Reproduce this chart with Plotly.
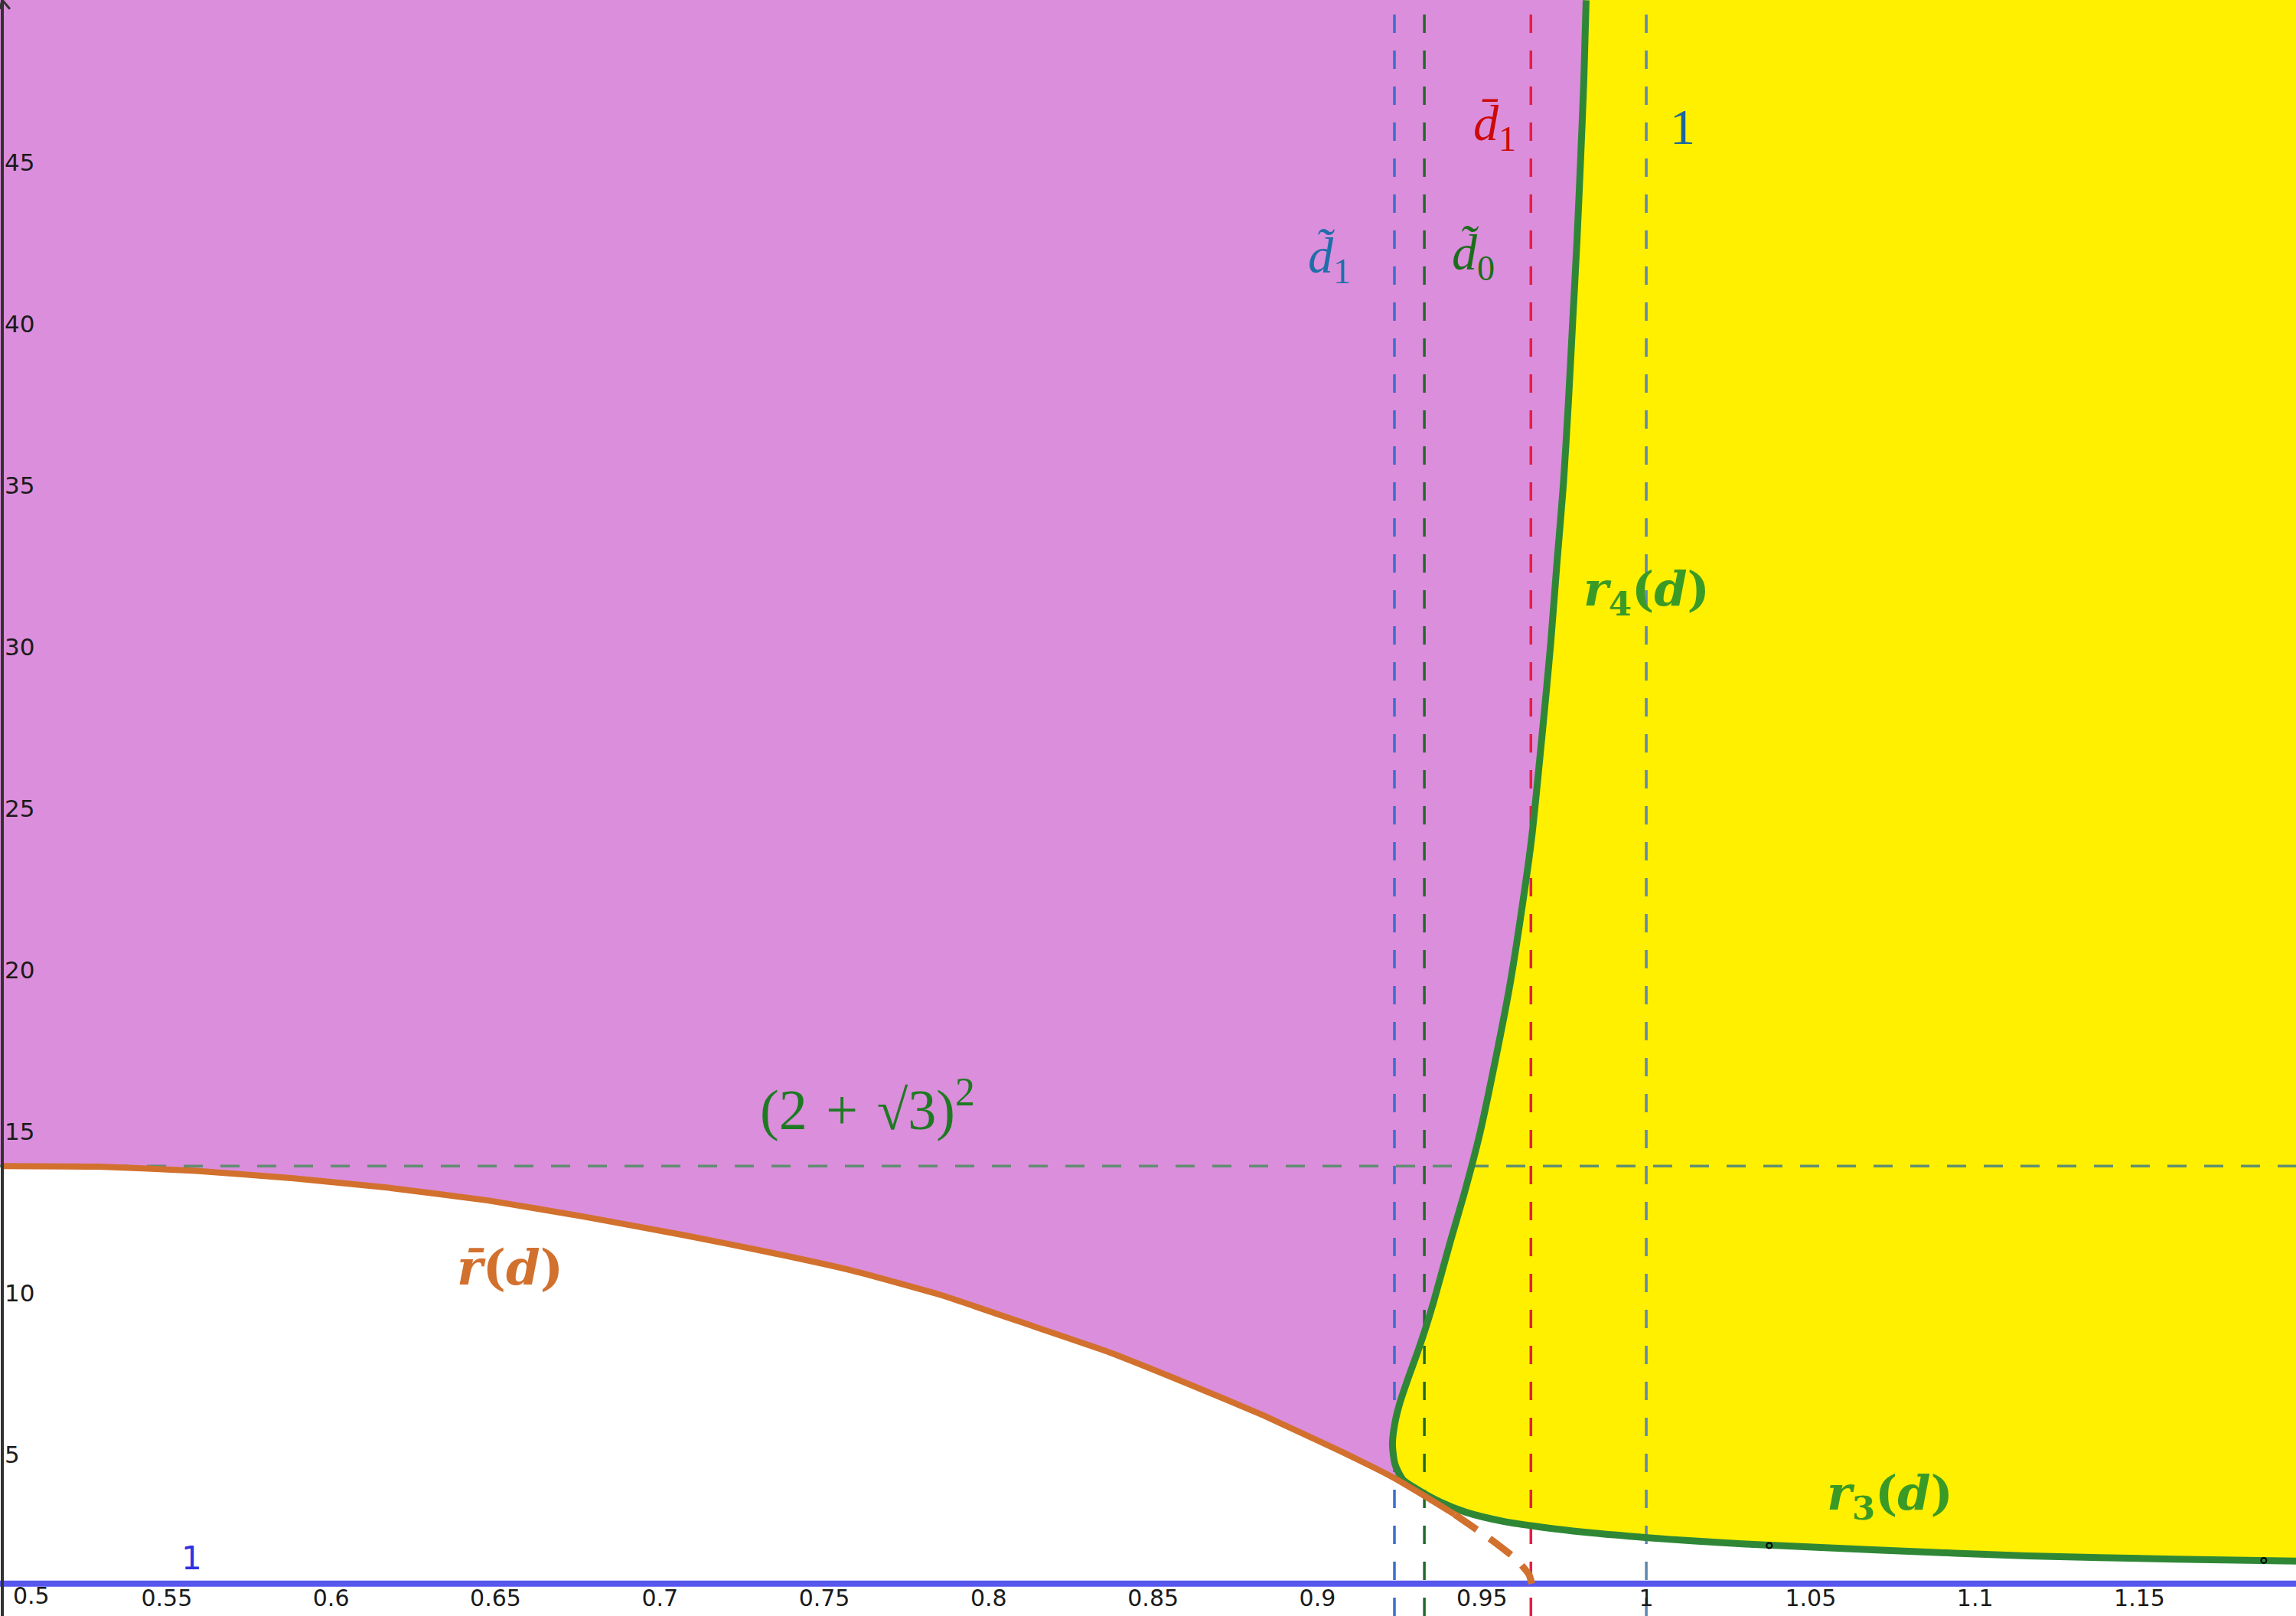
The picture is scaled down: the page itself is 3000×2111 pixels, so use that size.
import plotly.graph_objects as go

# ---- data ----
# orange curve r_bar(d): solid part and dashed continuation
rbar_d = [0.5, 0.5292, 0.5589, 0.5886, 0.6182, 0.6480, 0.6776, 0.7073, 0.7323, 0.7590,
          0.7857, 0.8124, 0.8368, 0.8601, 0.8834, 0.9066, 0.9230, 0.9325, 0.9418]
rbar_r = [13.93, 13.91, 13.78, 13.55, 13.25, 12.86, 12.35, 11.79, 11.28, 10.68,
          9.93, 9.01, 8.16, 7.21, 6.22, 5.12, 4.29, 3.72, 3.14]
rbar_dash_d = [0.9418, 0.9468, 0.9534, 0.9604, 0.9643, 0.9652]
rbar_dash_r = [3.14, 2.79, 2.32, 1.76, 1.29, 1.0]

# green curve: r4(d) coming down from the top, turning into r3(d)
green_d = [0.9817, 0.9810, 0.9800, 0.9789, 0.9776, 0.9763, 0.9748, 0.9728, 0.9709, 0.9686,
           0.9651, 0.9620, 0.9585, 0.9542, 0.9495, 0.9449, 0.9402, 0.9353, 0.9330, 0.9304,
           0.9276, 0.9250, 0.9235, 0.9228, 0.9236, 0.9260, 0.9294, 0.9371, 0.9449, 0.9565,
           0.9682, 0.9837, 0.9997, 1.0147, 1.0302, 1.0714, 1.1159, 1.1604, 1.1978]
green_r = [50.02, 47.53, 45.04, 42.54, 40.05, 37.56, 35.06, 32.57, 30.08, 27.58,
           24.06, 21.79, 19.53, 17.26, 14.99, 13.18, 11.52, 9.72, 8.95, 8.16,
           7.37, 6.58, 5.95, 5.32, 4.69, 4.22, 3.98, 3.54, 3.22, 2.93,
           2.75, 2.57, 2.43, 2.32, 2.23, 2.04, 1.86, 1.76, 1.70]
green_split = 25  # index where the magenta region meets the orange curve

dots_d = [1.0374, 1.1878]
dots_r = [2.18, 1.72]

# reference lines
d_tilde_1 = 0.9234
d_tilde_0 = 0.9325
d_bar_1 = 0.9649
d_one = 1.0
r_level = 13.928   # (2 + sqrt 3)^2
r_one = 1.0

x_ticks = [0.55, 0.6, 0.65, 0.7, 0.75, 0.8, 0.85, 0.9, 0.95, 1.0, 1.05, 1.1, 1.15]
x_ticktext = ['0.55', '0.6', '0.65', '0.7', '0.75', '0.8', '0.85', '0.9', '0.95', '1',
              '1.05', '1.1', '1.15']
y_ticks = [5, 10, 15, 20, 25, 30, 35, 40, 45]

X_MIN, X_MAX = 0.4993, 1.1976
Y_MIN, Y_MAX = 0.0, 50.03

colors = {
    'magenta': '#DB8EDB',
    'yellow': '#FFF000',
    'orange': '#D2702E',
    'green': '#2F8736',
    'green_label': '#3A9A26',
    'dark_green': '#1E7A22',
    'blue_line': '#5757EE',
    'blue_dash': '#3A6FCC',
    'green_dash': '#1F6B2A',
    'red_dash': '#E51E44',
    'one_dash': '#5E88AE',
    'h_dash': '#5F8E70',
}

fig = go.Figure()

# magenta region: above r_bar, left of the green curve
mag_x = [X_MIN] + rbar_d[:17] + green_d[:green_split + 1][::-1] + [X_MIN]
mag_y = [rbar_r[0]] + rbar_r[:17] + green_r[:green_split + 1][::-1] + [Y_MAX + 1]
mag_x[-1:] = [green_d[0], X_MIN]
mag_y[-1:] = [Y_MAX + 1, Y_MAX + 1]
fig.add_trace(go.Scatter(x=mag_x, y=mag_y, mode='lines', fill='toself',
                         fillcolor=colors['magenta'], line=dict(width=0),
                         hoverinfo='skip', showlegend=False))

# yellow region: right of the green curve
yel_x = green_d + [X_MAX + 0.01, X_MAX + 0.01, green_d[0]]
yel_y = green_r + [green_r[-1], Y_MAX + 1, Y_MAX + 1]
fig.add_trace(go.Scatter(x=yel_x, y=yel_y, mode='lines', fill='toself',
                         fillcolor=colors['yellow'], line=dict(width=0),
                         hoverinfo='skip', showlegend=False))

# the line r = 1
fig.add_trace(go.Scatter(x=[X_MIN, X_MAX], y=[r_one, r_one], mode='lines',
                         line=dict(color=colors['blue_line'], width=8),
                         hoverinfo='skip', showlegend=False))

# dashed reference lines
for xv, col in [(d_tilde_1, colors['blue_dash']), (d_tilde_0, colors['green_dash']),
                (d_bar_1, colors['red_dash']), (d_one, colors['one_dash'])]:
    fig.add_trace(go.Scatter(x=[xv, xv], y=[Y_MIN, Y_MAX], mode='lines',
                             line=dict(color=col, width=3.5, dash='24px,23px'),
                             hoverinfo='skip', showlegend=False))
fig.add_trace(go.Scatter(x=[X_MIN, X_MAX], y=[r_level, r_level], mode='lines',
                         line=dict(color=colors['h_dash'], width=3.5, dash='25px,23px'),
                         hoverinfo='skip', showlegend=False))

# curves
fig.add_trace(go.Scatter(x=green_d, y=green_r, mode='lines',
                         line=dict(color=colors['green'], width=9, shape='spline', smoothing=0.7),
                         hoverinfo='skip', showlegend=False))
fig.add_trace(go.Scatter(x=rbar_d, y=rbar_r, mode='lines',
                         line=dict(color=colors['orange'], width=8, shape='spline', smoothing=0.4),
                         hoverinfo='skip', showlegend=False))
fig.add_trace(go.Scatter(x=rbar_dash_d, y=rbar_dash_r, mode='lines',
                         line=dict(color=colors['orange'], width=9, dash='35px,20px',
                                   shape='spline', smoothing=0.5),
                         hoverinfo='skip', showlegend=False))
fig.add_trace(go.Scatter(x=dots_d, y=dots_r, mode='markers',
                         marker=dict(symbol='circle-open', size=7, color='black',
                                     line=dict(width=2, color='black')),
                         hoverinfo='skip', showlegend=False))

# y axis line with arrow
fig.add_shape(type='line', x0=0.5, x1=0.5, y0=Y_MIN, y1=Y_MAX,
              line=dict(color='#333333', width=4))
fig.add_shape(type='path', path='M 0.4993 49.75 L 0.5 50.03 L 0.5023 49.75',
              line=dict(color='#333333', width=3))

serif = 'Liberation Serif, DejaVu Serif, serif'
wide_serif = 'DejaVu Serif, Liberation Serif, serif'
sans = 'DejaVu Sans, Liberation Sans, Arial, sans-serif'

labels = [
    (0.6545, 10.8, '<b><i>r\u0304</i>(<i>d</i>)</b>', colors['orange'], 64, wide_serif),
    (1.0, 31.7, '<b><i>r</i><sub>4</sub>(<i>d</i>)</b>', colors['green_label'], 62, wide_serif),
    (1.074, 3.7, '<b><i>r</i><sub>3</sub>(<i>d</i>)</b>', colors['green_label'], 62, wide_serif),
    (0.7632, 15.8, '(2\u2004+\u2004\u221a3)<sup>2</sup>', colors['dark_green'], 74, serif),
    (0.9035, 42.0, '<i>d\u0303</i><sub>1</sub>', '#1F6EAA', 66, serif),
    (0.9473, 42.1, '<i>d\u0303</i><sub>0</sub>', '#1A6E1A', 66, serif),
    (0.9539, 46.1, '<i>d\u0304</i><sub>1</sub>', '#CC0A0A', 66, serif),
    (1.0111, 46.1, '1', '#1A66A0', 66, serif),
]
for xv, yv, txt, col, sz, fam in labels:
    fig.add_annotation(x=xv, y=yv, text=txt, showarrow=False,
                       font=dict(family=fam, size=sz, color=col))

fig.add_annotation(x=0.5575, y=1.8, text='1', showarrow=False,
                   font=dict(family=sans, size=42, color='#3030E0'))
fig.add_annotation(x=0.5088, y=0.62, text='0.5', showarrow=False,
                   font=dict(family=sans, size=30, color='#1a1a1a'))

fig.update_xaxes(range=[X_MIN, X_MAX], tickvals=x_ticks, ticktext=x_ticktext,
                 ticklabelposition='inside', ticklabelstandoff=4, ticks='',
                 showgrid=False, zeroline=False, showline=False,
                 tickfont=dict(family=sans, size=30, color='#1a1a1a'))
fig.update_yaxes(range=[Y_MIN, Y_MAX], tickvals=y_ticks,
                 ticklabelposition='inside', ticklabelstandoff=3, ticks='',
                 showgrid=False, zeroline=False, showline=False,
                 tickfont=dict(family=sans, size=31, color='#1a1a1a'))

fig.update_layout(
    width=3000,
    height=2111,
    autosize=False,
    margin=dict(l=0, r=0, t=0, b=0, pad=0),
    plot_bgcolor='white',
    paper_bgcolor='white',
    showlegend=False,
)

fig.write_html("out.html", config={'displayModeBar': False},
               post_script="document.body.style.margin='0';document.body.style.overflow='hidden';")
